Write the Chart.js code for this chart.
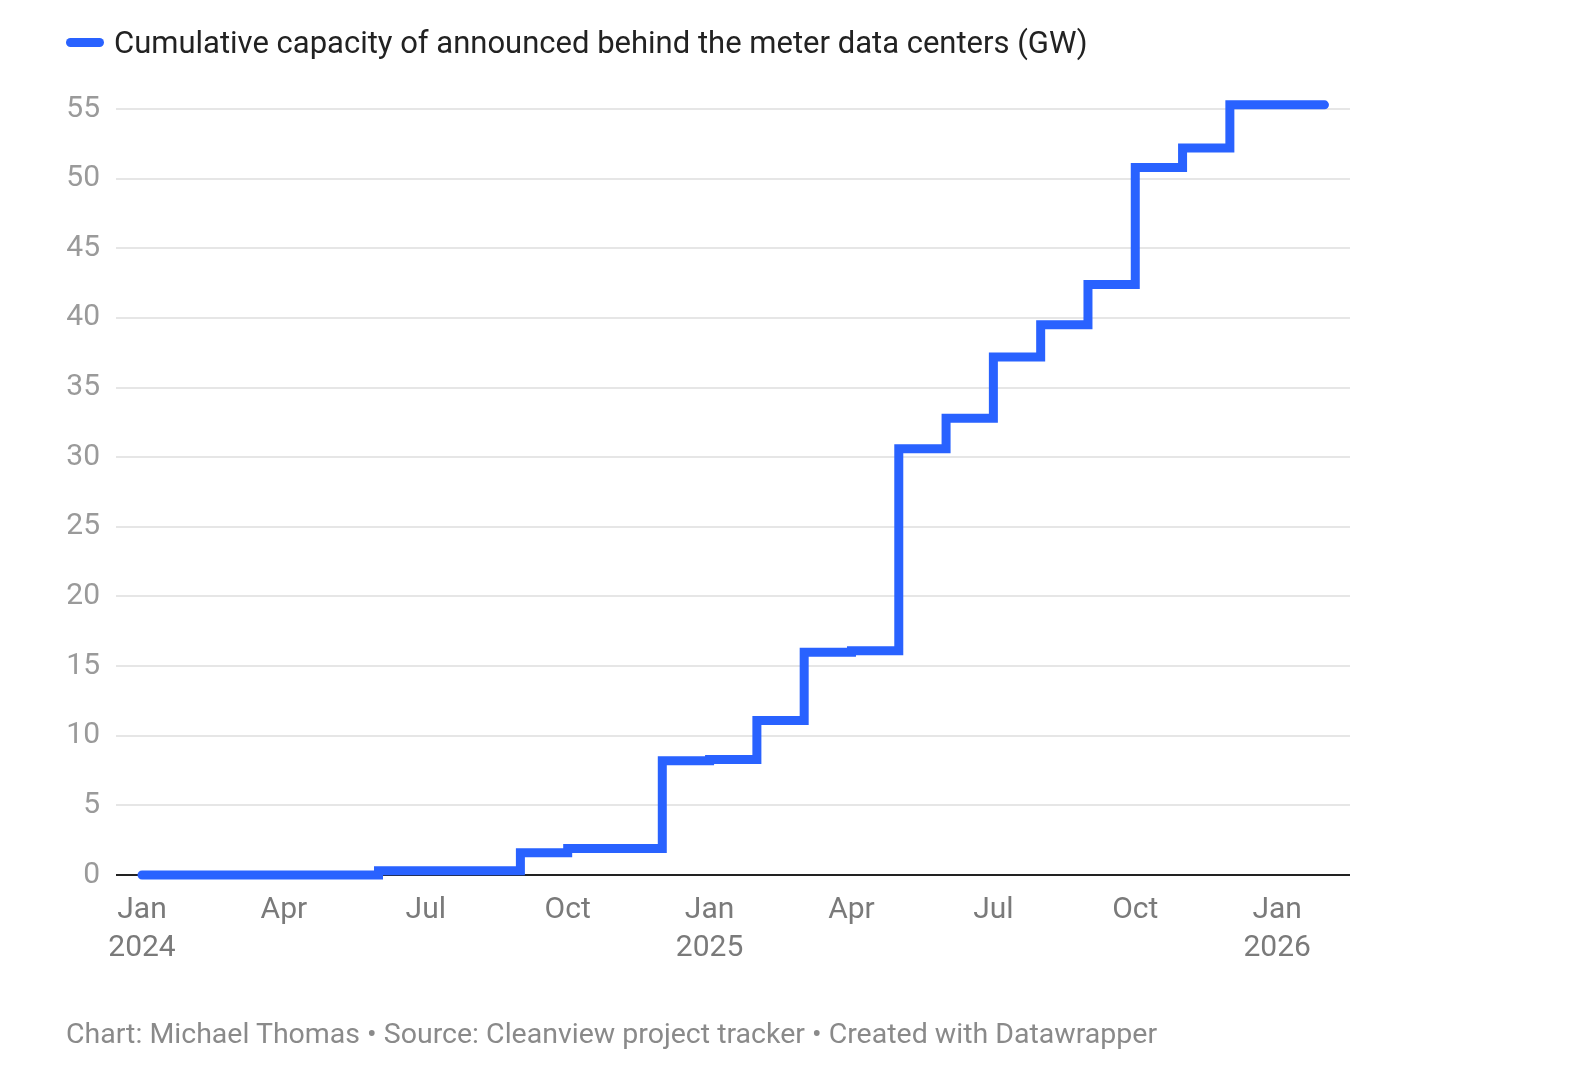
<!DOCTYPE html>
<html>
<head>
<meta charset="utf-8">
<script src="https://cdn.jsdelivr.net/npm/chart.js@4"></script>
<style>
  html, body { margin: 0; padding: 0; background: #fff; }
  body { width: 1576px; height: 1090px; position: relative; overflow: hidden; font-family: Roboto, "Noto Sans", sans-serif; }
  #wrap { position: absolute; left: 0; top: 0; width: 1576px; height: 1090px; }
  #legend { position: absolute; left: 66px; top: 24px; font-size: 31px; color: #222; display: flex; align-items: center; white-space: nowrap; }
  #legend .swatch { display: inline-block; width: 38px; height: 9px; border-radius: 5px; background: #2962ff; margin-right: 10px; }
  #footer { position: absolute; left: 66px; top: 1017px; font-size: 28.5px; color: #8a8a8a; white-space: nowrap; }
</style>
</head>
<body>
<div id="wrap"><canvas id="chart"></canvas></div>
<div id="legend"><span class="swatch"></span>Cumulative capacity of announced behind the meter data centers (GW)</div>
<div id="footer">Chart: Michael Thomas • Source: Cleanview project tracker • Created with Datawrapper</div>
<script>
  // months counted from Jan 2024 (0) to Feb 2026 (25)
  const monthIndex = [0, 1, 2, 3, 4, 5, 6, 7, 8, 9, 10, 11, 12, 13, 14, 15, 16, 17, 18, 19, 20, 21, 22, 23, 24, 25];
  const capacityGW = [0, 0, 0, 0, 0, 0.3, 0.3, 0.3, 1.6, 1.9, 1.9, 8.2, 8.3, 11.1, 16.0, 16.1, 30.6, 32.8, 37.2, 39.5, 42.4, 50.8, 52.2, 55.3, 55.3, 55.3];

  const xTickPositions = [0, 3, 6, 9, 12, 15, 18, 21, 24];
  const xTickLabels = [["Jan", "2024"], "Apr", "Jul", "Oct", ["Jan", "2025"], "Apr", "Jul", "Oct", ["Jan", "2026"]];
  const yTickValues = [0, 5, 10, 15, 20, 25, 30, 35, 40, 45, 50, 55];

  const LINE_BLUE = "#2962ff";
  const TICK_GREY = "#9a9a9a";

  const points = monthIndex.map((m, i) => ({ x: m, y: capacityGW[i] }));

  new Chart(document.getElementById("chart"), {
    type: "line",
    data: {
      datasets: [
        {
          label: "Cumulative capacity of announced behind the meter data centers (GW)",
          data: points,
          borderColor: LINE_BLUE,
          borderWidth: 9,
          stepped: true,
          pointRadius: 0,
          borderCapStyle: "round",
          borderJoinStyle: "miter",
          clip: false,
        },
      ],
    },
    options: {
      responsive: true,
      maintainAspectRatio: false,
      animation: false,
      layout: { padding: { left: 0, right: 226, top: 109, bottom: 0 } },
      plugins: {
        legend: { display: false },
        tooltip: { enabled: false },
      },
      scales: {
        x: {
          type: "linear",
          min: -0.55,
          max: 25.54,
          afterBuildTicks: (axis) => {
            axis.ticks = xTickPositions.map((v) => ({ value: v }));
          },
          afterFit: (axis) => {
            axis.height = 1090 - 875;
          },
          ticks: {
            autoSkip: false,
            maxRotation: 0,
            padding: 16,
            color: "#7a7a7a",
            font: { family: "Roboto", size: 30, lineHeight: 1.28 },
            callback: (value) => {
              const i = xTickPositions.indexOf(value);
              return i >= 0 ? xTickLabels[i] : "";
            },
          },
          grid: { display: false, drawTicks: false },
          border: { display: false },
        },
        y: {
          min: 0,
          max: 55,
          afterBuildTicks: (axis) => {
            axis.ticks = yTickValues.map((v) => ({ value: v }));
          },
          afterFit: (axis) => {
            axis.width = 116;
          },
          ticks: {
            padding: 16,
            color: TICK_GREY,
            font: { family: "Roboto", size: 30 },
          },
          grid: {
            drawTicks: false,
            lineWidth: 2,
            color: (ctx) => (ctx.tick && ctx.tick.value === 0 ? "#222" : "#e6e6e6"),
          },
          border: { display: false },
        },
      },
    },
  });
</script>
</body>
</html>
